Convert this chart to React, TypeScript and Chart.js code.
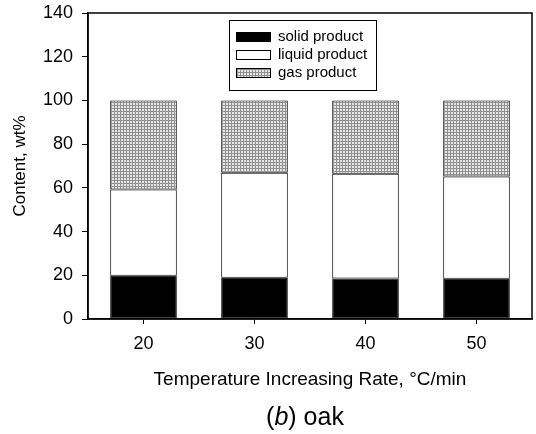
import React, { useEffect, useRef } from "react";
import { Chart, registerables } from "chart.js";

Chart.register(...registerables);

const categories = ["20", "30", "40", "50"];
const solidProduct = [19.8, 18.9, 18.5, 18.4];
const liquidProduct = [39.5, 48.0, 47.9, 46.8];
const gasProduct = [40.7, 33.1, 33.6, 34.8];
const seriesLabels = ["solid product", "liquid product", "gas product"];
const yTitle = "Content, wt%";
const xTitle = "Temperature Increasing Rate, \u00B0C/min";
const captionParts = ["(", "b", ") oak"];

const FONT = "Arial, 'Liberation Sans', Helvetica, sans-serif";

function makePattern(): CanvasPattern | string {
  const c = document.createElement("canvas");
  c.width = 3;
  c.height = 3;
  const g = c.getContext("2d");
  if (!g) return "#c4c4c4";
  g.fillStyle = "#e6e6e6";
  g.fillRect(0, 0, 3, 3);
  g.fillStyle = "#909090";
  g.fillRect(0, 0, 3, 1);
  g.fillRect(0, 0, 1, 3);
  const p = g.createPattern(c, "repeat");
  return p || "#c4c4c4";
}

export default function App() {
  const ref = useRef<HTMLCanvasElement | null>(null);

  useEffect(() => {
    document.body.style.margin = "0";
    const canvas = ref.current;
    if (!canvas) return;
    const pattern = makePattern();
    const fills = ["#000000", "#ffffff", pattern];

    const frame = {
      id: "frame",
      afterDatasetsDraw(chart: any) {
        const { ctx, chartArea } = chart;
        ctx.save();
        ctx.strokeStyle = "#000";
        ctx.lineWidth = 1.5;
        ctx.strokeRect(chartArea.left, chartArea.top, chartArea.right - chartArea.left, chartArea.bottom - chartArea.top);
        ctx.restore();
      },
    };

    const caption = {
      id: "caption",
      afterDraw(chart: any) {
        const { ctx, chartArea } = chart;
        const size = 25;
        const fonts = [`${size}px ${FONT}`, `italic ${size}px ${FONT}`, `${size}px ${FONT}`];
        ctx.save();
        ctx.fillStyle = "#000";
        ctx.textBaseline = "middle";
        ctx.textAlign = "left";
        let total = 0;
        const widths = captionParts.map((t, i) => {
          ctx.font = fonts[i];
          const w = ctx.measureText(t).width;
          total += w;
          return w;
        });
        let x = (chartArea.left + chartArea.right) / 2 - 5 - total / 2;
        const y = 418;
        captionParts.forEach((t, i) => {
          ctx.font = fonts[i];
          ctx.fillText(t, x, y);
          x += widths[i];
        });
        ctx.restore();
      },
    };

    const boxLegend = {
      id: "boxLegend",
      afterDraw(chart: any) {
        const { ctx, chartArea } = chart;
        const x0 = chartArea.left + 141;
        const y0 = chartArea.top + 7;
        const w = 147;
        const h = 70;
        ctx.save();
        ctx.fillStyle = "#fff";
        ctx.fillRect(x0, y0, w, h);
        ctx.strokeStyle = "#000";
        ctx.lineWidth = 1;
        ctx.strokeRect(x0 + 0.5, y0 + 0.5, w, h);
        ctx.font = `15px ${FONT}`;
        ctx.textBaseline = "middle";
        ctx.textAlign = "left";
        chart.data.datasets.forEach((ds: any, i: number) => {
          const cy = y0 + 17 + i * 18;
          ctx.fillStyle = ds.backgroundColor;
          ctx.fillRect(x0 + 7, cy - 5, 35, 10);
          ctx.strokeStyle = "#000";
          ctx.strokeRect(x0 + 7.5, cy - 4.5, 34, 9);
          ctx.fillStyle = "#000";
          ctx.fillText(ds.label, x0 + 49, cy);
        });
        ctx.restore();
      },
    };

    const values = [solidProduct, liquidProduct, gasProduct];
    const chart = new Chart(canvas, {
      type: "bar",
      data: {
        labels: categories,
        datasets: seriesLabels.map((label, i) => ({
          label,
          data: values[i],
          backgroundColor: fills[i] as any,
          borderColor: "#000",
          borderWidth: 1,
          borderSkipped: false,
          barPercentage: 0.6,
          categoryPercentage: 1,
        })),
      },
      options: {
        animation: false,
        responsive: false,
        maintainAspectRatio: false,
        layout: { padding: { left: 0, right: 4, top: 13, bottom: 30 } },
        plugins: {
          legend: { display: false },
          tooltip: { enabled: false },
        },
        scales: {
          x: {
            stacked: true,
            afterFit(scale: any) {
              scale.height = 85;
              scale.paddingLeft = 0;
              scale.paddingRight = 0;
            },
            grid: { display: true, drawOnChartArea: false, drawTicks: true, tickLength: 5, offset: false, color: "#000" },
            border: { display: true, color: "#000", width: 1.5 },
            ticks: { color: "#000", padding: 9, font: { family: FONT, size: 18 } },
            title: {
              display: true,
              text: xTitle,
              color: "#000",
              font: { family: FONT, size: 19, lineHeight: 1.2 },
              padding: { top: 0, bottom: 12.6 },
            },
          },
          y: {
            stacked: true,
            min: 0,
            max: 140,
            afterFit(scale: any) {
              scale.width = 88;
              scale.paddingTop = 0;
              scale.paddingBottom = 0;
            },
            grid: { display: true, drawOnChartArea: false, drawTicks: true, tickLength: 6, color: "#000" },
            border: { display: true, color: "#000", width: 1.5 },
            ticks: { stepSize: 20, color: "#000", padding: 9, font: { family: FONT, size: 18 } },
            title: {
              display: true,
              text: yTitle,
              color: "#000",
              font: { family: FONT, size: 17, lineHeight: 1.2 },
              padding: { top: 10, bottom: 0 },
            },
          },
        },
      },
      plugins: [frame, boxLegend, caption],
    });
    return () => chart.destroy();
  }, []);

  return (
    <div style={{ width: 536, height: 434, background: "#fff" }}>
      <canvas ref={ref} width={536} height={434} style={{ display: "block", width: 536, height: 434 }} />
    </div>
  );
}
